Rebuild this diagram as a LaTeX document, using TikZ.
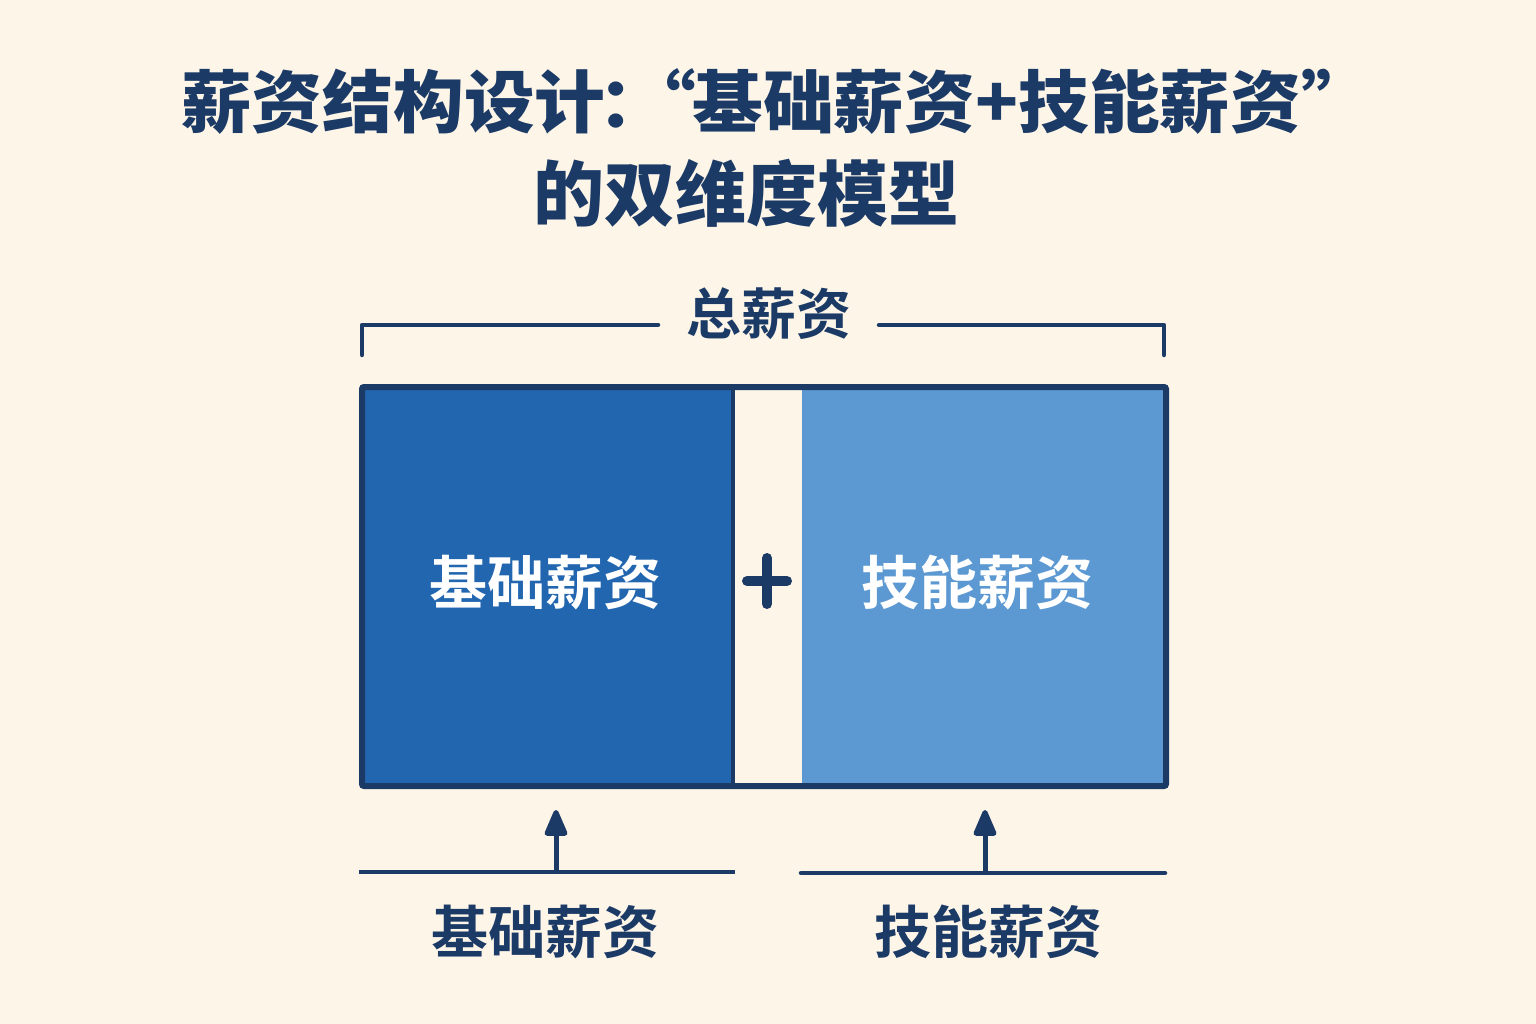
\documentclass[tikz,border=0pt]{standalone}
\usepackage{fontspec}
\newfontfamily\cjk{Noto Sans CJK SC Bold}
\newfontfamily\cjkblack{Noto Sans CJK SC Black}
\usetikzlibrary{arrows.meta}
\definecolor{bgc}{HTML}{FDF5E8}
\definecolor{navy}{HTML}{1B3A66}
\definecolor{dblue}{HTML}{2266B0}
\definecolor{lblue}{HTML}{5C99D2}
\tikzset{
  ttl/.style={text=navy, font=\cjkblack\fontsize{68}{90}\selectfont, inner sep=0pt},
  lbl/.style={text=navy, font=\cjk\fontsize{57}{60}\selectfont, inner sep=0pt},
  boxlbl/.style={text=white, font=\cjk\fontsize{58}{60}\selectfont, inner sep=0pt},
  ln/.style={draw=navy, line width=4.5pt},
  arr/.style={draw=navy, line width=5pt, -{Triangle[width=24pt,length=30pt,round]}}
}
\begin{document}
\begin{tikzpicture}[x=1pt,y=-1pt]
\fill[bgc] (0,0) rectangle (1536,1024);
\useasboundingbox (0,0) rectangle (1536,1024);
% title
\node[ttl, anchor=west] (t1) at (181,101) {\scalebox{1.04}[1]{薪资结构设计\kern-0.1em：\kern-0.62em“\kern-0.05em基础薪资+技能薪资”}};
\node[ttl, font=\cjkblack\fontsize{71}{90}\selectfont] (t2) at (746,193) {的双维度模型};
% total bracket
\node[lbl, font=\cjk\fontsize{55}{60}\selectfont] (tot) at (769,314) {总薪资};
\coordinate (bl) at (362,355);
\coordinate (br) at (1164,355);
\draw[ln, line cap=round, line join=round] (bl) |- (658,325);
\draw[ln, line cap=round, line join=round] (br) |- (879,325);
% boxes
\fill[dblue] (364,388) rectangle (732,785);
\fill[lblue] (802,388) rectangle (1164,785);
\node[boxlbl] (b1) at (545,583) {基础薪资};
\node[boxlbl] (b2) at (977,583) {技能薪资};
\draw[navy, line width=6pt, rounded corners=2pt] (362,387) rectangle (1166,786);
\draw[navy, line width=4pt] (733,387) -- (733,786);
% plus sign
\coordinate (pc) at (767,581);
\draw[navy, line width=10pt, line cap=round] ([xshift=-20pt]pc) -- ([xshift=20pt]pc);
\draw[navy, line width=10pt, line cap=round] ([yshift=-23pt]pc) -- ([yshift=23pt]pc);
% bottom
\coordinate (a1) at (556,871);
\coordinate (a2) at (985,871);
\draw[arr] (a1) -- (556,810);
\draw[arr] (a2) -- (985,810);
\draw[ln] (359,872) -- (735,872);
\draw[ln, line cap=round] (801,873) -- (1165,873);
\node[lbl] (l1) at (545,932) {基础薪资};
\node[lbl] (l2) at (988,932) {技能薪资};
\end{tikzpicture}
\end{document}
